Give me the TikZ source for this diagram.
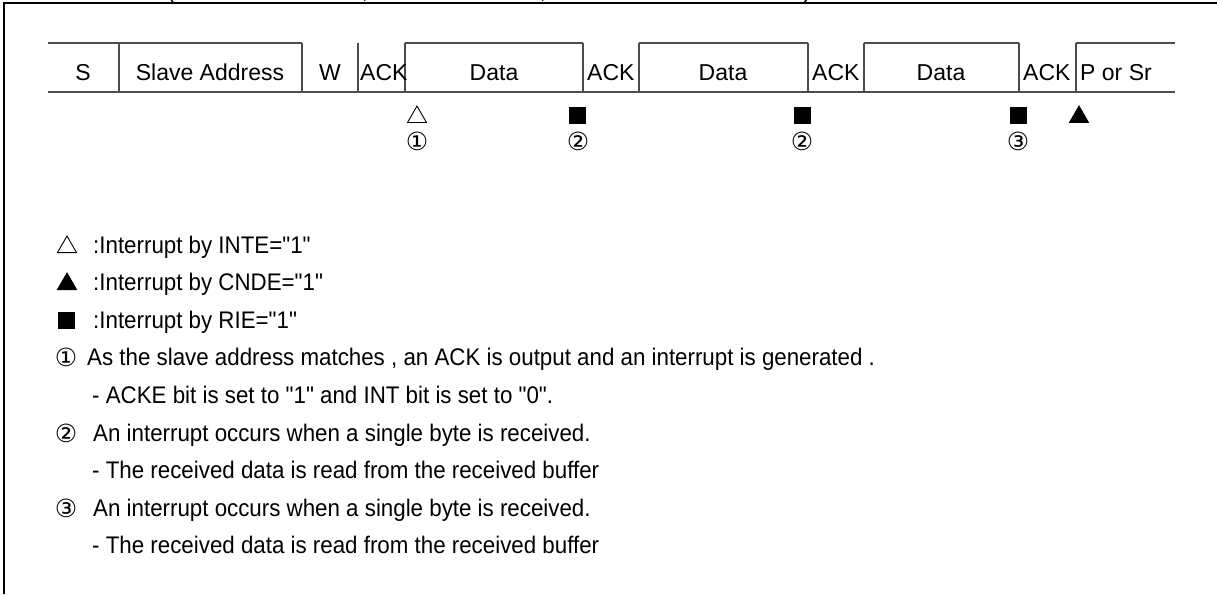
\documentclass[tikz,border=0pt]{standalone}
\usepackage{fontspec}
\setmainfont{Liberation Sans}
\newfontfamily\symfont{DejaVu Sans}
\newfontfamily\legfont[FakeStretch=0.93]{Liberation Sans}
\usetikzlibrary{shapes.geometric}
\begin{document}
\begin{tikzpicture}[x=1pt,y=-1pt,
  barline/.style={draw=black!70, line width=1.1pt},
  frameline/.style={line width=2.6pt},
  celltext/.style={font=\fontsize{23}{23}\selectfont, anchor=base, inner sep=0pt},
  acktext/.style={celltext, anchor=base west},
  cuttext/.style={font=\fontsize{23}{23}\selectfont, anchor=base, inner sep=0pt},
  opentri/.style={regular polygon, regular polygon sides=3, draw, line width=0.9pt, minimum size=22pt, inner sep=0pt, anchor=south},
  filltri/.style={opentri, fill=black},
  sq/.style={rectangle, fill=black, minimum size=17pt, inner sep=0pt},
  num/.style={font=\symfont\fontsize{25}{25}\selectfont, inner sep=0pt},
  leg/.style={font=\legfont\fontsize{24}{24}\selectfont, anchor=base west, inner sep=0pt}
]
\useasboundingbox (0,0) rectangle (1217,594);
% clipped remains of a text line above the frame
\begin{scope}
  \clip (0,0) rectangle (1217,3);
  \node[cuttext] (c1) at (171,-1.5) {(};
  \node[cuttext] (c2) at (365,-1.5) {,};
  \node[cuttext] (c3) at (543,-1.5) {,};
  \node[cuttext] (c4) at (807,-1.5) {)};
\end{scope}
% frame
\draw[frameline] (4,594) -- (4,3) -- (1217,3);
% bar lines
\draw[barline] (48,92) -- (1175,92);
\draw[barline] (48,43) -- (302,43);
\draw[barline] (405,43) -- (583,43);
\draw[barline] (639,43) -- (808,43);
\draw[barline] (864,43) -- (1019,43);
\draw[barline] (1076,43) -- (1175,43);
\foreach \x in {119,302,358,405,583,639,808,864,1019,1076}
  \draw[barline] (\x,43) -- (\x,92);
% bar texts
\node[celltext] (s) at (83,80) {S};
\node[celltext] (sa) at (210,80) {Slave Address};
\node[celltext] (w) at (330,80) {W};
\node[acktext] (ack1) at (360,80) {ACK};
\node[celltext] (d1) at (494,80) {Data};
\node[acktext] (ack2) at (587,80) {ACK};
\node[celltext] (d2) at (723,80) {Data};
\node[acktext] (ack3) at (812,80) {ACK};
\node[celltext] (d3) at (941,80) {Data};
\node[acktext] (ack4) at (1023,80) {ACK};
\node[acktext] (por) at (1080,80) {P or Sr};
% markers
\node[opentri] (m1) at (417,123) {};
\node[sq] (m2) at (577,115) {};
\node[sq] (m3) at (802,115) {};
\node[sq] (m4) at (1018,115) {};
\node[filltri] (m5) at (1079,123) {};
\node[num] (n1) at (417,141) {①};
\node[num] (n2) at (578,141) {②};
\node[num] (n3) at (802,141) {②};
\node[num] (n4) at (1018,141) {③};
% legend
\node[opentri] (l1) at (67,253) {};
\node[leg] (t1) at (93,253) {:Interrupt by INTE="1"};
\node[filltri] (l2) at (67,290) {};
\node[leg] (t2) at (93,290) {:Interrupt by CNDE="1"};
\node[sq] (l3) at (66,320) {};
\node[leg] (t3) at (93,328) {:Interrupt by RIE="1"};
\node[num] (l4) at (66,357) {①};
\node[leg] (t4) at (87,365) {As the slave address matches , an ACK is output and an interrupt is generated .};
\node[leg] (t5) at (92,403) {- ACKE bit is set to "1" and INT bit is set to "0".};
\node[num] (l6) at (66,433) {②};
\node[leg] (t6) at (93,441) {An interrupt occurs when a single byte is received.};
\node[leg] (t7) at (92,478) {- The received data is read from the received buffer};
\node[num] (l8) at (66,508) {③};
\node[leg] (t8) at (93,516) {An interrupt occurs when a single byte is received.};
\node[leg] (t9) at (92,553) {- The received data is read from the received buffer};
\end{tikzpicture}
\end{document}
